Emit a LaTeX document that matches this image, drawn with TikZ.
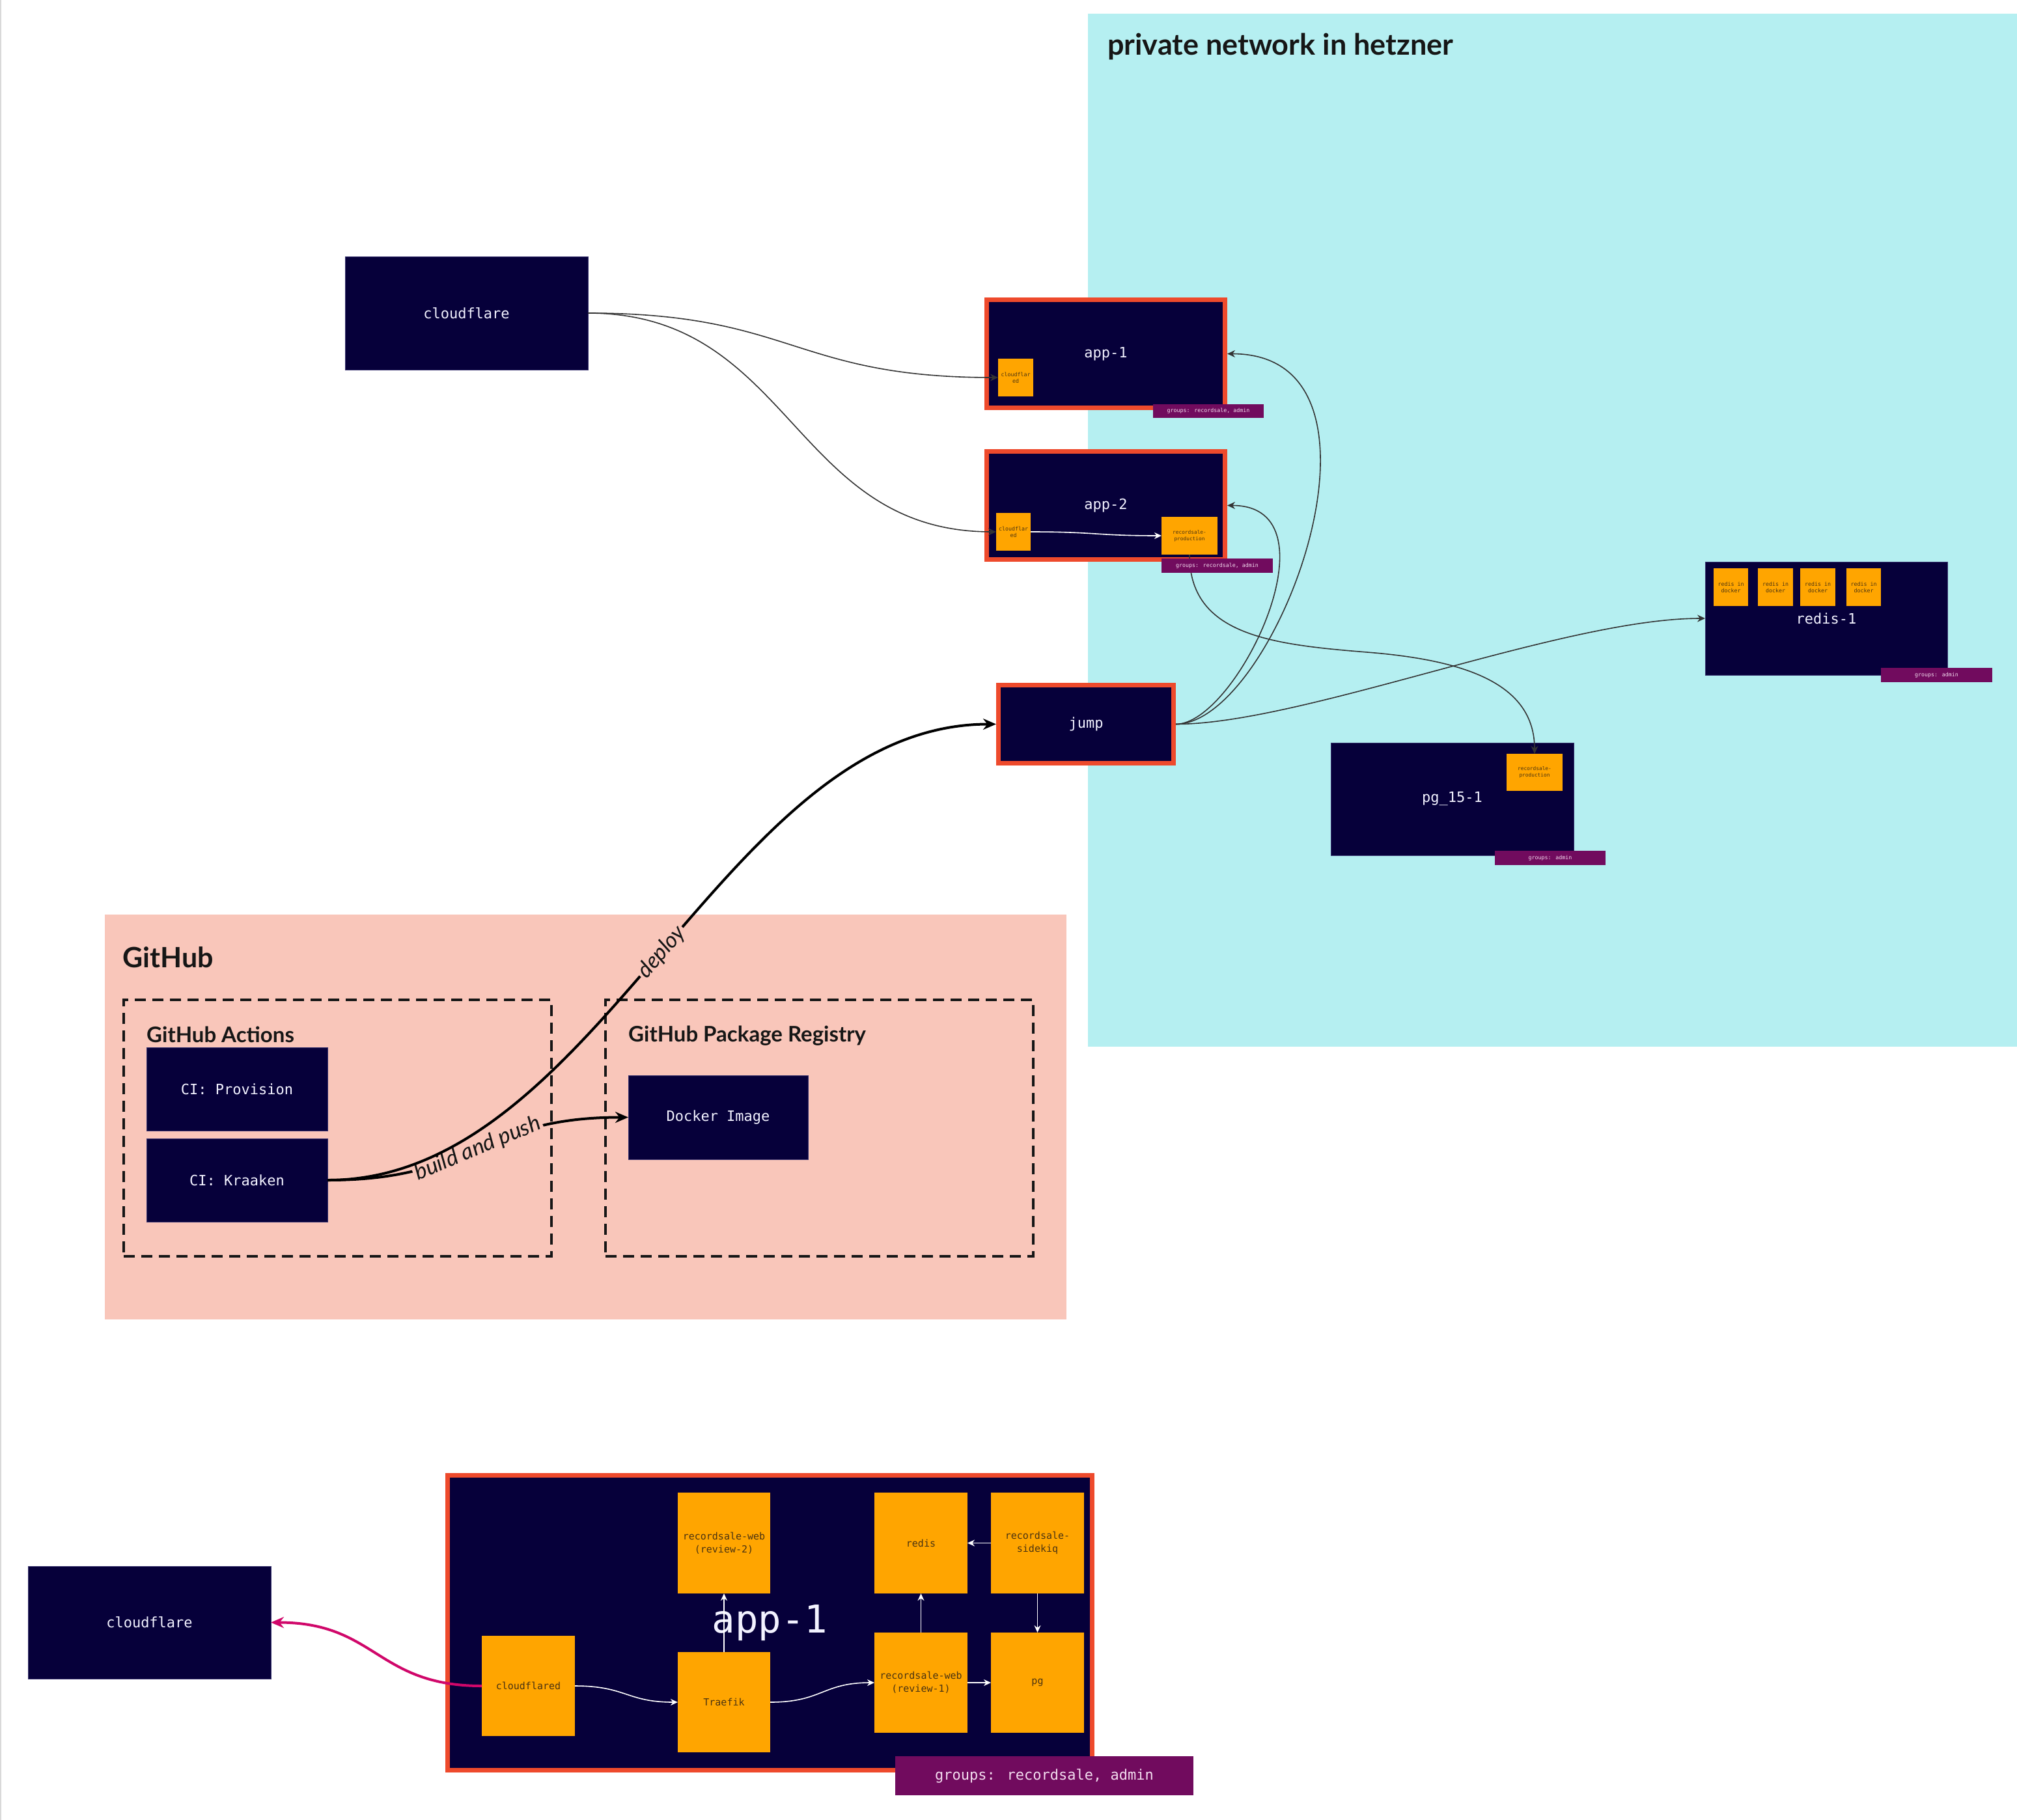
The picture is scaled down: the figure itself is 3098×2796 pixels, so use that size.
\documentclass[tikz,border=0pt]{standalone}
\usepackage{fontspec}
\usetikzlibrary{arrows.meta}
\newfontfamily\monof{DejaVu Sans Mono}
\newfontfamily\sansf{Lato}
\definecolor{navy}{HTML}{06003A}
\definecolor{navyedge}{HTML}{3A3570}
\definecolor{redb}{HTML}{EE4A2C}
\definecolor{orng}{HTML}{FFA500}
\definecolor{ortext}{HTML}{4A3312}
\definecolor{grpur}{HTML}{710B5E}
\definecolor{grtext}{HTML}{F3DCEF}
\definecolor{cyanbg}{HTML}{B5EFF1}
\definecolor{pinkbg}{HTML}{F9C6BA}
\definecolor{magarr}{HTML}{D0076A}
\definecolor{conngray}{HTML}{333333}
\definecolor{txtwhite}{HTML}{F2F2FF}
\definecolor{titlec}{HTML}{161616}
% \bxnode{name}{style}{x1}{y1}{x2}{y2}{text}
\newcommand{\bxnode}[7]{\node[#2, minimum width={(#5)-(#3)}, minimum height={(#6)-(#4)}] (#1) at ({((#3)+(#5))/2},{((#4)+(#6))/2}) {#7};}
\begin{document}
\begin{tikzpicture}[x=1pt,y=-1pt,
  pnl/.style={inner sep=0pt, outer sep=0pt},
  bx/.style={inner sep=0pt, outer sep=0pt},
  navybox/.style={bx, fill=navy, draw=navyedge, line width=1, text=txtwhite, font=\monof\fontsize{22}{26}\selectfont},
  redbox/.style={bx, fill=navy, draw=redb, line width=7, outer sep=3.5, text=txtwhite, font=\monof\fontsize{22}{26}\selectfont},
  orbox/.style={bx, align=center, fill=orng, text=ortext, font=\monof\fontsize{8.3}{10}\selectfont},
  orbig/.style={bx, align=center, fill=orng, text=ortext, font=\monof\fontsize{15}{20}\selectfont},
  grp/.style={bx, fill=grpur, text=grtext, font=\monof\fontsize{8.3}{10}\selectfont},
  dashbox/.style={inner sep=0pt, draw=titlec, line width=4, dash pattern=on 17pt off 10pt},
  ttl/.style={inner sep=0pt, text=titlec, font=\sansf\bfseries\fontsize{45}{50}\selectfont},
  subttl/.style={inner sep=0pt, text=titlec, font=\sansf\bfseries\fontsize{33}{38}\selectfont},
  conn/.style={draw=conngray, line width=1.6, -{Stealth[length=12pt,width=11pt]}},
  wconn/.style={draw=white, line width=1.6, -{Stealth[length=11pt,width=10pt]}},
  thickarr/.style={draw=black, line width=4, -{Stealth[length=20pt,width=17pt]}},
  edgelbl/.style={fill=pinkbg, inner sep=3pt, text=titlec, font=\sansf\itshape\fontsize{34}{38}\selectfont}
]
\useasboundingbox (0,0) rectangle (3098,2796);
\fill[white] (0,0) rectangle (3098,2796);
\draw[draw=black!15, line width=2] (1,0) -- (1,2796);

% containers
\bxnode{hetzner}{pnl, fill=cyanbg}{1671}{21}{3098}{1608}{}
\bxnode{github}{pnl, fill=pinkbg}{161}{1405}{1638}{2027}{}
\node[ttl, anchor=west] (htitle) at (1701,72) {private network in hetzner};
\node[ttl, font=\sansf\bfseries\fontsize{43}{48}\selectfont, anchor=west] (ghtitle) at (188,1471) {GitHub};
\bxnode{actions}{dashbox}{190}{1536}{847}{1930}{}
\bxnode{registry}{dashbox}{930}{1536}{1587}{1930}{}
\node[subttl, anchor=west] (acttitle) at (225,1589) {GitHub Actions};
\node[subttl, anchor=west] (regtitle) at (965,1591) {GitHub Package Registry};

% GitHub boxes
\bxnode{prov}{navybox}{225}{1609}{503}{1737}{CI: Provision}
\bxnode{kraaken}{navybox}{225}{1749}{503}{1877}{CI: Kraaken}
\bxnode{docker}{navybox}{965}{1652}{1241}{1781}{Docker Image}

% top cloudflare and apps
\bxnode{cf}{navybox}{530}{394}{903}{568}{cloudflare}
\bxnode{app1}{redbox}{1515.5}{460.5}{1881.5}{626.5}{app-1}
\bxnode{cfa1}{orbox}{1533}{551}{1587}{609}{cloudflar\\ed}
\bxnode{app2}{redbox}{1515.5}{693.5}{1881.5}{859.5}{app-2}
\bxnode{cfa2}{orbox}{1530}{788}{1583}{846}{cloudflar\\ed}
\bxnode{rp2}{orbox, font=\monof\fontsize{7.8}{10}\selectfont}{1784}{794}{1870}{852}{recordsale-\\production}
\bxnode{jump}{redbox}{1533.5}{1052.5}{1802.5}{1172.5}{jump}

% redis and pg
\bxnode{redis1}{navybox}{2619}{863}{2991}{1037}{redis-1}
\bxnode{dk1}{orbox}{2632}{873}{2685}{931}{redis in\\docker}
\bxnode{dk2}{orbox}{2700}{873}{2754}{931}{redis in\\docker}
\bxnode{dk3}{orbox}{2765}{873}{2819}{931}{redis in\\docker}
\bxnode{dk4}{orbox}{2836}{873}{2889}{931}{redis in\\docker}
\bxnode{pg}{navybox}{2044}{1141}{2417}{1314}{pg\_15-1}
\bxnode{rpg}{orbox, font=\monof\fontsize{7.8}{10}\selectfont}{2314}{1158}{2400}{1215}{recordsale-\\production}

% bottom detail
\bxnode{cf2}{navybox}{43}{2406}{416}{2579}{cloudflare}
\bxnode{app1b}{redbox, font=\monof\fontsize{59}{64}\selectfont}{687.5}{2266.5}{1677.5}{2719.5}{app-1}
\bxnode{rw2}{orbig}{1041}{2293}{1183}{2448}{recordsale-web\\(review-2)}
\bxnode{redisb}{orbig}{1343}{2293}{1486}{2448}{redis}
\bxnode{sidekiq}{orbig}{1522}{2293}{1665}{2448}{recordsale-\\sidekiq}
\bxnode{cfd}{orbig}{740}{2513}{883}{2667}{cloudflared}
\bxnode{traefik}{orbig}{1041}{2538}{1183}{2692}{Traefik}
\bxnode{rw1}{orbig}{1343}{2508}{1486}{2662}{recordsale-web\\(review-1)}
\bxnode{pgb}{orbig}{1522}{2508}{1665}{2662}{pg}

% connectors top
\draw[conn] (cf.east) .. controls +(315,0) and +(-315,0) .. (cfa1.west);
\draw[conn] (cf.east) .. controls +(314,0) and +(-313,0) .. (cfa2.west);
\draw[wconn] (cfa2.east) .. controls +(100,0) and +(-100,0) .. (rp2.west);
\draw[conn] (jump.east) .. controls +(154,0) and +(285,0) .. (app1.east);
\draw[conn] (jump.east) .. controls +(94,0) and +(175,0) .. (app2.east);
\draw[conn] (jump.east) .. controls +(194,0) and +(-219,0) .. (redis1.west);
\draw[conn] (rp2.south) .. controls +(0,123) and (1950,990) .. (2100,1002)
  .. controls (2250,1014) and (2357,1050) .. (rpg.north);

% github connectors
\draw[thickarr] (kraaken.east) .. controls +(231,0) and +(-231,0) .. (docker.west)
  node[edgelbl, pos=0.5, sloped] (bplbl) {build and push};
\draw[thickarr] (kraaken.east) .. controls +(420,0) and +(-420,0) .. (jump.west)
  node[edgelbl, pos=0.5, sloped] (deplbl) {deploy};

% bottom connectors
\draw[magarr, line width=4, -{Stealth[length=20pt,width=17pt]}] (cfd.west) .. controls +(-162,0) and +(162,0) .. (cf2.east);
\draw[wconn] (cfd.east) .. controls +(79,0) and +(-79,0) .. (traefik.west);
\draw[wconn] (traefik.east) .. controls +(80,0) and +(-80,0) .. (rw1.west);
\draw[wconn] (traefik.north) -- (rw2.south);
\draw[wconn] (rw1.north) -- (redisb.south);
\draw[wconn] (rw1.east) -- (pgb.west);
\draw[wconn] (sidekiq.west) -- (redisb.east);
\draw[wconn] (sidekiq.south) -- (pgb.north);

% group tags
\bxnode{g1}{grp}{1771}{621}{1941}{642}{groups: recordsale, admin}
\bxnode{g2}{grp}{1784}{858}{1955}{880}{groups: recordsale, admin}
\bxnode{g3}{grp}{2889}{1026}{3060}{1048}{groups: admin}
\bxnode{g4}{grp}{2296}{1307}{2466}{1329}{groups: admin}
\bxnode{g5}{grp, font=\monof\fontsize{22}{26}\selectfont}{1375}{2698}{1833}{2758}{groups: recordsale, admin}
\end{tikzpicture}
\end{document}
